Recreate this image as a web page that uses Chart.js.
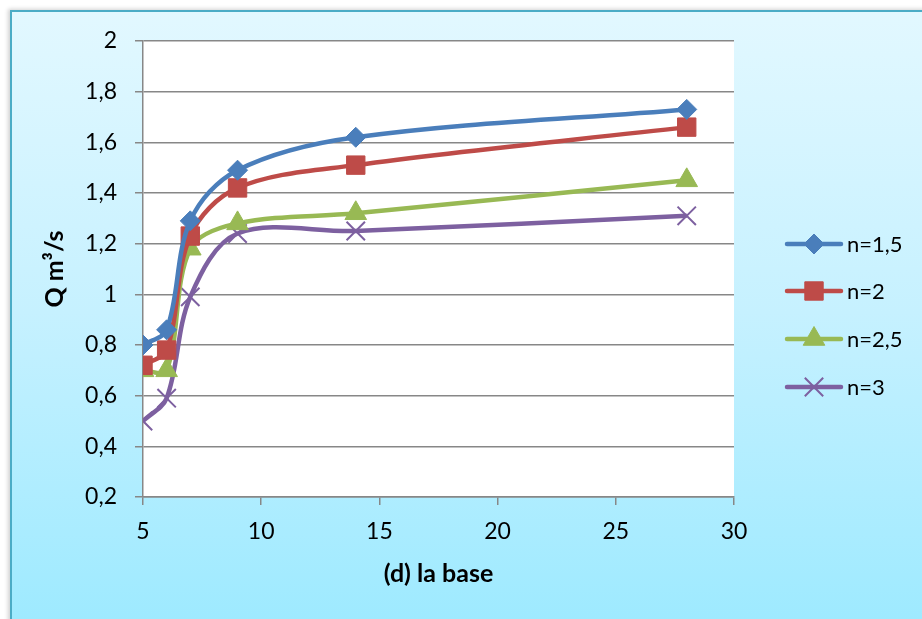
<!DOCTYPE html>
<html>
<head>
<meta charset="utf-8">
<script src="https://cdn.jsdelivr.net/npm/chart.js@4.4.1/dist/chart.umd.min.js"></script>
<style>
  html, body { margin: 0; padding: 0; background: #ffffff; overflow: hidden; }
  #frame {
    position: absolute; left: 10px; top: 10px; width: 1000px; height: 700px;
    border: 2px solid #4bacc6;
    background: linear-gradient(to bottom, #e2f8ff 0px, #c6f1ff 300px, #9eeaff 609px);
    box-shadow: -2px -1px 4px rgba(0,0,0,0.18);
  }
  #c { position: absolute; left: 0; top: 0; }
</style>
</head>
<body>
<div id="frame"></div>
<canvas id="c" width="922" height="619"></canvas>
<script>
// Base width d and discharge Q for each value of n
const baseWidth = [5, 6, 7, 9, 14, 28];
const seriesNames = ['n=1,5', 'n=2', 'n=2,5', 'n=3'];
const qN15 = [0.80, 0.86, 1.29, 1.49, 1.62, 1.73];
const qN2  = [0.72, 0.78, 1.23, 1.42, 1.51, 1.66];
const qN25 = [0.70, 0.70, 1.18, 1.28, 1.32, 1.45];
const qN3  = [0.50, 0.59, 0.99, 1.24, 1.25, 1.31];
const xTickLabels = ['5', '10', '15', '20', '25', '30'];
const yTickLabels = ['0,2', '0,4', '0,6', '0,8', '1', '1,2', '1,4', '1,6', '1,8', '2'];

const FONT = 'Lato, "Noto Sans", sans-serif';
const GRID = '#878787';

const styles = [
  { color: '#4a7ebb', point: 'rectRot', radius: 10, bw: 1 },
  { color: '#be4b48', point: 'rect', radius: 13, bw: 1 },
  { color: '#98b954', point: 'triangle', radius: 12.5, bw: 1 },
  { color: '#7d60a0', point: 'crossRot', radius: 13, bw: 2 }
];

function toPoints(values) {
  return values.map((v, i) => ({ x: baseWidth[i], y: v }));
}

const datasets = [qN15, qN2, qN25, qN3].map((vals, i) => ({
  label: seriesNames[i],
  data: toPoints(vals),
  borderColor: styles[i].color,
  backgroundColor: styles[i].color,
  borderWidth: 4.5,
  tension: 0.34,
  pointStyle: styles[i].point,
  pointRadius: styles[i].radius,
  pointHoverRadius: styles[i].radius,
  pointBorderWidth: styles[i].bw,
  pointBackgroundColor: styles[i].color,
  pointBorderColor: styles[i].color
}));

// White plot area behind the grid
const plotBackground = {
  id: 'plotBackground',
  beforeDraw(chart) {
    const { ctx, chartArea: a } = chart;
    ctx.save();
    ctx.fillStyle = '#ffffff';
    ctx.fillRect(a.left, a.top, a.right - a.left, a.bottom - a.top);
    ctx.restore();
  }
};

// Legend on the right: line segment with the series marker in the middle
const sideLegend = {
  id: 'sideLegend',
  afterDraw(chart) {
    const { ctx } = chart;
    const x0 = 787, x1 = 841, xm = 814, tx = 847;
    const rows = [244, 291, 339, 387];
    ctx.save();
    chart.data.datasets.forEach((ds, i) => {
      const y = rows[i];
      ctx.strokeStyle = ds.borderColor;
      ctx.lineWidth = 4.5;
      ctx.lineCap = 'round';
      ctx.beginPath();
      ctx.moveTo(x0, y);
      ctx.lineTo(x1, y);
      ctx.stroke();
      ctx.fillStyle = ds.pointBackgroundColor;
      ctx.strokeStyle = ds.pointBorderColor;
      ctx.lineWidth = ds.pointBorderWidth;
      ctx.lineCap = 'butt';
      Chart.helpers.drawPoint(ctx, { pointStyle: ds.pointStyle, radius: ds.pointRadius, borderWidth: ds.pointBorderWidth, rotation: 0 }, xm, y);
      ctx.fillStyle = '#000000';
      ctx.font = '22px ' + FONT;
      ctx.textAlign = 'left';
      ctx.textBaseline = 'middle';
      ctx.fillText(ds.label, tx, y + 1);
    });
    ctx.restore();
  }
};

new Chart(document.getElementById('c'), {
  type: 'line',
  data: { datasets },
  plugins: [plotBackground, sideLegend],
  options: {
    responsive: false,
    animation: false,
    devicePixelRatio: 1,
    layout: { padding: { left: 0, top: 41, right: 188, bottom: 0 } },
    plugins: { legend: { display: false }, tooltip: { enabled: false } },
    scales: {
      x: {
        type: 'linear',
        min: 5, max: 30,
        afterFit(scale) { scale.height = 122; },
        afterBuildTicks(scale) { scale.ticks = xTickLabels.map(t => ({ value: Number(t) })); },
        ticks: {
          color: '#000000', padding: 13,
          font: { family: FONT, size: 23 },
          callback: (v, i) => xTickLabels[i]
        },
        grid: { drawOnChartArea: false, drawTicks: true, tickLength: 8, color: GRID, lineWidth: 1.5 },
        border: { display: true, color: GRID, width: 1.5 },
        title: {
          display: true, text: '(d) la base', color: '#000000',
          font: { family: FONT, size: 25, weight: 'bold' },
          padding: { top: 0, bottom: 30 }
        }
      },
      y: {
        type: 'linear',
        min: 0.2, max: 2,
        afterFit(scale) { scale.width = 143; },
        afterBuildTicks(scale) { scale.ticks = yTickLabels.map(t => ({ value: Number(t.replace(',', '.')) })); },
        ticks: {
          color: '#000000', padding: 18,
          font: { family: FONT, size: 23 },
          callback: (v, i) => yTickLabels[i]
        },
        grid: { color: GRID, lineWidth: 1.5, tickLength: 8 },
        border: { display: true, color: GRID, width: 1.5 },
        title: {
          display: true, text: 'Q m³/s', color: '#000000',
          font: { family: FONT, size: 25, weight: 'bold' },
          padding: { top: 40, bottom: 0 }
        }
      }
    }
  }
});
</script>
</body>
</html>
